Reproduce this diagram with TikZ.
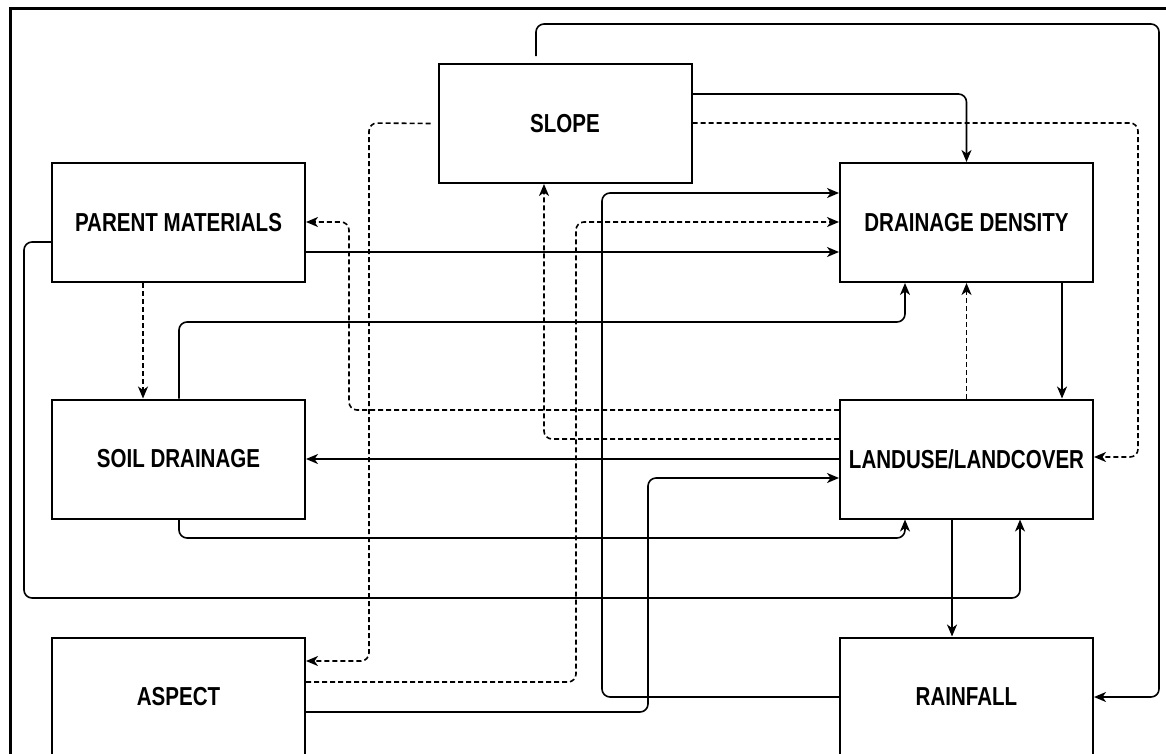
\documentclass[tikz,border=0pt]{standalone}
\usepackage{fontspec}
\setmainfont{Liberation Sans}
\usepackage{graphicx}
\usetikzlibrary{arrows.meta}
\newcommand\boxlbl[1]{\scalebox{0.79}[1]{#1}}
\begin{document}
\begin{tikzpicture}[x=1pt,y=-1pt,
  box/.style={draw, line width=2pt, minimum width=253pt, minimum height=119pt, inner sep=0pt,
    font=\bfseries\fontsize{26}{30}\selectfont},
  conn/.style={line width=1.6pt, rounded corners=8pt, -{Stealth[length=12pt,width=10pt,inset=3.5pt]}},
  dconn/.style={conn, dash pattern=on 5pt off 3pt}]
\useasboundingbox (0,0) rectangle (1166,753);
% frame
\draw[line width=3pt] (10,760) -- (10,8) -- (1170,8);
% boxes
\node[box] (slope)  at (565,123.5) {\boxlbl{SLOPE}};
\node[box] (pm)     at (178.5,222.5) {\boxlbl{PARENT MATERIALS}};
\node[box] (dd)     at (966.5,222.5) {\boxlbl{DRAINAGE DENSITY}};
\node[box] (sd)     at (178.5,459) {\boxlbl{SOIL DRAINAGE}};
\node[box] (lulc)   at (966.5,459) {\boxlbl{LANDUSE/LANDCOVER}};
\node[box] (aspect) at (178.5,697) {\boxlbl{ASPECT}};
\node[box] (rain)   at (966.5,697) {\boxlbl{RAINFALL}};
% connectors
\draw[conn] ([xshift=-29pt,yshift=7pt]slope.north) -- (536,24) -- (1159,24) -- (1159,697) -- (rain.east |- 0,697);
\draw[conn] (slope.east |- 0,94) -- (966.5,94) -- (dd.north);
\draw[dconn] (slope.east |- 0,123) -- (1138,123) -- (1138,457) -- (lulc.east |- 0,457);
\draw[dconn] ([xshift=-7pt]slope.west) -- (369,123) -- (369,661) -- (aspect.east |- 0,661);
\draw[conn] (pm.east |- 0,252) -- (dd.west |- 0,252);
\draw[dconn] (143,0 |- pm.south) -- (143,0 |- sd.north);
\draw[conn] (pm.west |- 0,242) -- (24,242) -- (24,598) -- (1020,598) -- (1020,0 |- lulc.south);
\draw[conn] (179,0 |- sd.north) -- (179,322) -- (905,322) -- (905,0 |- dd.south);
\draw[conn] (179,0 |- sd.south) -- (179,538) -- (905,538) -- (905,0 |- lulc.south);
\draw[dconn] (lulc.west |- 0,410) -- (349,410) -- (349,222) -- (pm.east |- 0,222);
\draw[dconn] (lulc.west |- 0,439) -- (544,439) -- (544,0 |- slope.south);
\draw[conn] (lulc.west |- 0,459) -- (sd.east |- 0,459);
\draw[dconn] (lulc.north) -- (dd.south);
\draw[conn] (1062,0 |- dd.south) -- (1062,0 |- lulc.north);
\draw[conn] (952,0 |- lulc.south) -- (952,0 |- rain.north);
\draw[conn] (rain.west |- 0,697) -- (602,697) -- (602,193) -- (dd.west |- 0,193);
\draw[dconn] (aspect.east |- 0,682) -- (576,682) -- (576,222) -- (dd.west |- 0,222);
\draw[conn] (aspect.east |- 0,712) -- (648,712) -- (648,478) -- (lulc.west |- 0,478);
\end{tikzpicture}
\end{document}
